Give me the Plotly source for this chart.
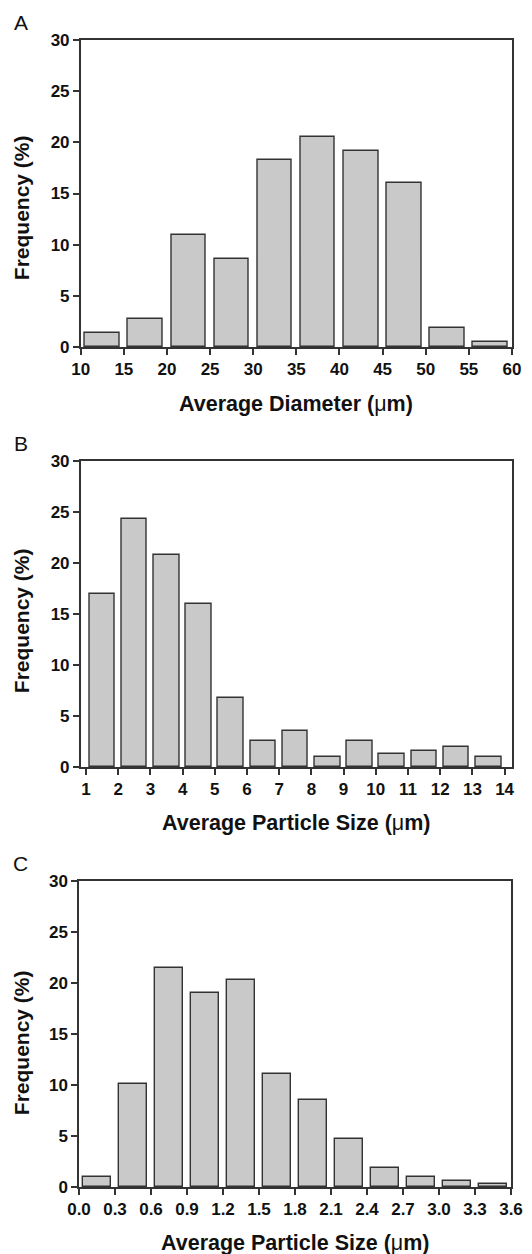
import plotly.graph_objects as go

# ---- data ----
a_centers = [12.5, 17.5, 22.5, 27.5, 32.5, 37.5, 42.5, 47.5, 52.5, 57.5]
a_freq = [1.4, 2.76, 10.94, 8.64, 18.24, 20.5, 19.15, 16.0, 1.85, 0.49]
a_ticks = [10, 15, 20, 25, 30, 35, 40, 45, 50, 55, 60]

b_centers = [1.5, 2.5, 3.5, 4.5, 5.5, 6.5, 7.5, 8.5, 9.5, 10.5, 11.5, 12.5, 13.5]
b_freq = [17.0, 24.3, 20.8, 16.0, 6.72, 2.58, 3.52, 0.98, 2.58, 1.3, 1.6, 1.92, 0.98]
b_ticks = [1, 2, 3, 4, 5, 6, 7, 8, 9, 10, 11, 12, 13, 14]

c_centers = [0.15, 0.45, 0.75, 1.05, 1.35, 1.65, 1.95, 2.25, 2.55, 2.85, 3.15, 3.45]
c_freq = [0.95, 10.1, 21.5, 19.0, 20.26, 11.06, 8.52, 4.7, 1.89, 0.95, 0.62, 0.29]
c_ticks = [0.0, 0.3, 0.6, 0.9, 1.2, 1.5, 1.8, 2.1, 2.4, 2.7, 3.0, 3.3, 3.6]
c_ticktext = ["0.0", "0.3", "0.6", "0.9", "1.2", "1.5", "1.8", "2.1", "2.4", "2.7", "3.0", "3.3", "3.6"]

y_ticks = [0, 5, 10, 15, 20, 25, 30]

W, H = 532, 1254
FONT = "Liberation Sans, Arial, Helvetica, sans-serif"
BAR_FILL = "#c9c9c9"
LINE = "#333333"

def ydom(top, bottom):
    return [1 - bottom / H, 1 - top / H]

fig = go.Figure()

panels = [
    dict(x=a_centers, y=a_freq, w=4.0, xr=[10, 60], tv=a_ticks, tt=[str(t) for t in a_ticks],
         xd=[80.7 / W, 512 / W], yd=ydom(40, 347), label="A", label_y=22,
         xtitle="<b>Average Diameter (</b>μ<b>m)</b>", ytitle_y=207.5, xtitle_y=404),
    dict(x=b_centers, y=b_freq, w=0.8, xr=[0.835, 14.23], tv=b_ticks, tt=[str(t) for t in b_ticks],
         xd=[80.7 / W, 512 / W], yd=ydom(461, 767), label="B", label_y=443,
         xtitle="<b>Average Particle Size (</b>μ<b>m)</b>", ytitle_y=620.5, xtitle_y=823),
    dict(x=c_centers, y=c_freq, w=0.24, xr=[0, 3.6], tv=c_ticks, tt=c_ticktext,
         xd=[79 / W, 511 / W], yd=ydom(881, 1187), label="C", label_y=863,
         xtitle="<b>Average Particle Size (</b>μ<b>m)</b>", ytitle_y=1042.5, xtitle_y=1243),
]

annotations = []
for i, p in enumerate(panels, start=1):
    xa = "x" if i == 1 else f"x{i}"
    ya = "y" if i == 1 else f"y{i}"
    fig.add_trace(go.Bar(
        x=p["x"], y=p["y"], width=p["w"],
        marker=dict(color=BAR_FILL, line=dict(color=LINE, width=1.4)),
        xaxis=xa, yaxis=ya, showlegend=False,
    ))
    axis_common = dict(
        showline=True, linecolor=LINE, linewidth=1.5, mirror=True,
        ticks="outside", ticklen=6, tickwidth=1.5, tickcolor=LINE,
        showgrid=False, zeroline=False, automargin=False,
        tickfont=dict(family=FONT, size=17, color="#111111", weight="bold"),
    )
    xkey = "xaxis" if i == 1 else f"xaxis{i}"
    ykey = "yaxis" if i == 1 else f"yaxis{i}"
    fig.update_layout(**{
        xkey: dict(domain=p["xd"], range=p["xr"], tickvals=p["tv"], ticktext=p["tt"],
                   anchor=ya, **axis_common),
        ykey: dict(domain=p["yd"], range=[0, 30], tickvals=y_ticks, anchor=xa, **axis_common),
    })
    xc = (p["xd"][0] + p["xd"][1]) / 2
    annotations.append(dict(text=p["xtitle"], x=xc, y=1 - p["xtitle_y"] / H, xref="paper", yref="paper",
                            showarrow=False, xanchor="center", yanchor="middle",
                            font=dict(family=FONT, size=21.5, color="#111111")))
    annotations.append(dict(text="<b>Frequency (%)</b>", x=21.7 / W, y=1 - p["ytitle_y"] / H,
                            xref="paper", yref="paper", textangle=-90, showarrow=False,
                            xanchor="center", yanchor="middle",
                            font=dict(family=FONT, size=21, color="#111111")))
    annotations.append(dict(text=p["label"], x=20.5 / W, y=1 - p["label_y"] / H, xref="paper", yref="paper",
                            showarrow=False, xanchor="center", yanchor="middle",
                            font=dict(family=FONT, size=21, color="#111111")))

fig.update_layout(
    width=W, height=H,
    margin=dict(l=0, r=0, t=0, b=0),
    paper_bgcolor="white", plot_bgcolor="white",
    annotations=annotations,
    bargap=0,
)

fig.write_html("out.html")
